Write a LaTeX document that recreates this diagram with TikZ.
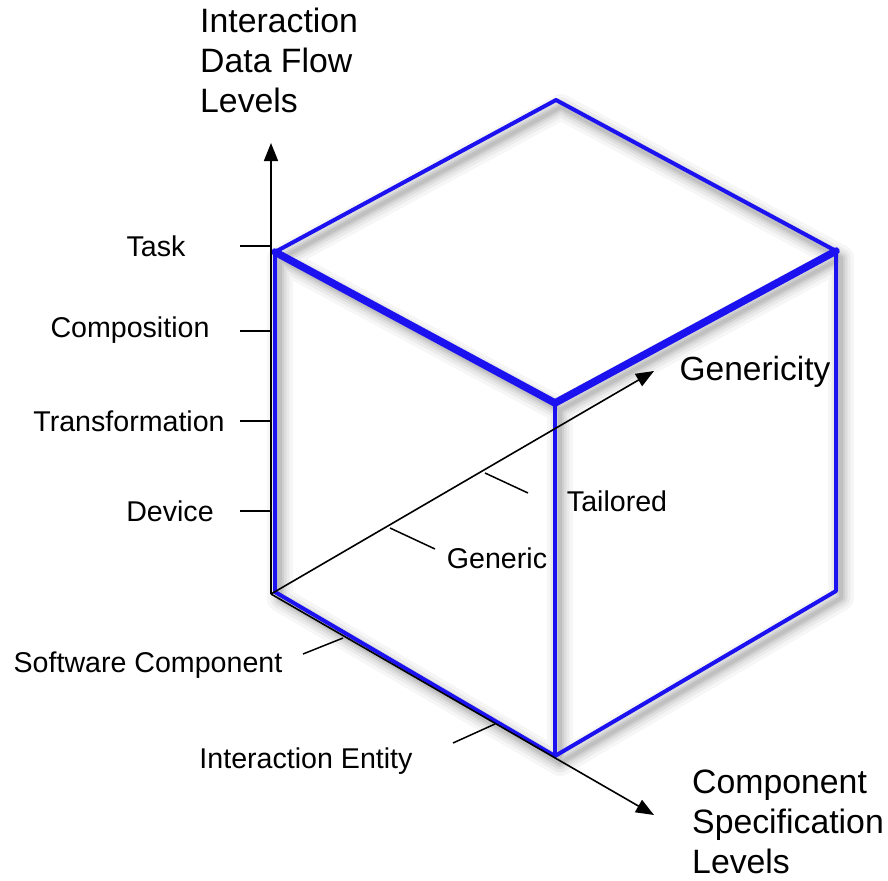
\documentclass[tikz,border=0pt]{standalone}
\usepackage{fontspec}
\setmainfont{Liberation Sans}
\usetikzlibrary{arrows.meta}
\definecolor{cubeblue}{RGB}{28,18,240}
\begin{document}
\begin{tikzpicture}[x=1pt,y=-1pt,
  edge/.style={draw=cubeblue, line width=4pt, line join=round, line cap=round},
  heavy/.style={draw=cubeblue, line width=7.5pt, line join=round, line cap=round},
  axis/.style={draw=black, line width=1.6pt, -{Triangle[length=18pt,width=14pt]}},
  tickline/.style={draw=black, line width=1.5pt},
  lbl/.style={font=\fontsize{28.6}{34}\selectfont, inner sep=0pt, anchor=base},
  biglbl/.style={font=\fontsize{33.5}{40}\selectfont, inner sep=0pt, anchor=base},
  title/.style={font=\fontsize{33.8}{40}\selectfont, inner sep=0pt, align=left, anchor=north west},
  shade/.style={draw=black, line join=round, line cap=round,
                transform canvas={xshift=5pt,yshift=-7pt}}
]
\useasboundingbox[fill=white] (0,0) rectangle (888,880);

% cube corners
\coordinate (TL) at (275,252);
\coordinate (TB) at (556,100);
\coordinate (TR) at (836,251);
\coordinate (FT) at (555,403);
\coordinate (BL) at (275,592);
\coordinate (BF) at (555,756);
\coordinate (BR) at (836,591);

% axes
\coordinate (O) at (271,594);
\coordinate (Ytip) at (271,143);
\coordinate (Xtip) at (654,371);
\coordinate (Ztip) at (654,815);

% soft drop shadow of the cube edges
\foreach \w/\o in {26/0.035,19/0.045,13/0.055,8/0.065,4/0.07}{
  \draw[shade, line width=\w pt, opacity=\o]
    (TL) -- (TB) -- (TR) -- (BR) -- (BF) -- (BL) -- cycle
    (TL) -- (FT) -- (TR) (FT) -- (BF);
}

% cube
\draw[edge] (TL) -- (TB) -- (TR) -- (BR) -- (BF) -- (BL) -- cycle;
\draw[edge] (FT) -- (BF);
\draw[heavy] (TL) -- (FT) -- (TR);

% axes on top
\draw[axis] (O) -- (Ytip);
\draw[axis] (O) -- (Xtip);
\draw[axis] (O) -- (Ztip);

% vertical axis ticks and levels
\foreach \n/\y in {ta/246,co/331,tr/421,de/511}{
  \coordinate (\n-a) at (271,\y);
  \coordinate (\n-b) at (240,\y);
  \draw[tickline] (\n-a) -- (\n-b);
}
\node[lbl] (task) at (156,256) {Task};
\node[lbl] (comp) at (130,337) {Composition};
\node[lbl] (trans) at (129,431) {Transformation};
\node[lbl] (dev) at (170,521) {Device};

% genericity axis ticks
\coordinate (ge-a) at (390,528);
\coordinate (ge-b) at (435,549);
\coordinate (tl-a) at (485,473);
\coordinate (tl-b) at (528,493);
\draw[tickline] (ge-a) -- (ge-b);
\draw[tickline] (tl-a) -- (tl-b);
\node[lbl] (generic) at (497,568) {Generic};
\node[lbl] (tailored) at (617,511) {Tailored};
\node[biglbl] (genericity) at (755,380) {Genericity};

% component axis ticks
\coordinate (sc-a) at (343,638);
\coordinate (sc-b) at (303,654);
\coordinate (ie-a) at (495,724);
\coordinate (ie-b) at (453,743);
\draw[tickline] (sc-a) -- (sc-b);
\draw[tickline] (ie-a) -- (ie-b);
\node[lbl] (swc) at (148,672) {Software Component};
\node[lbl] (ient) at (306,768) {Interaction Entity};

% axis titles
\node[title] (ytitle) at (200,8) {Interaction\\Data Flow\\Levels};
\node[title] (ztitle) at (692,770) {Component\\Specification\\Levels};
\end{tikzpicture}
\end{document}
